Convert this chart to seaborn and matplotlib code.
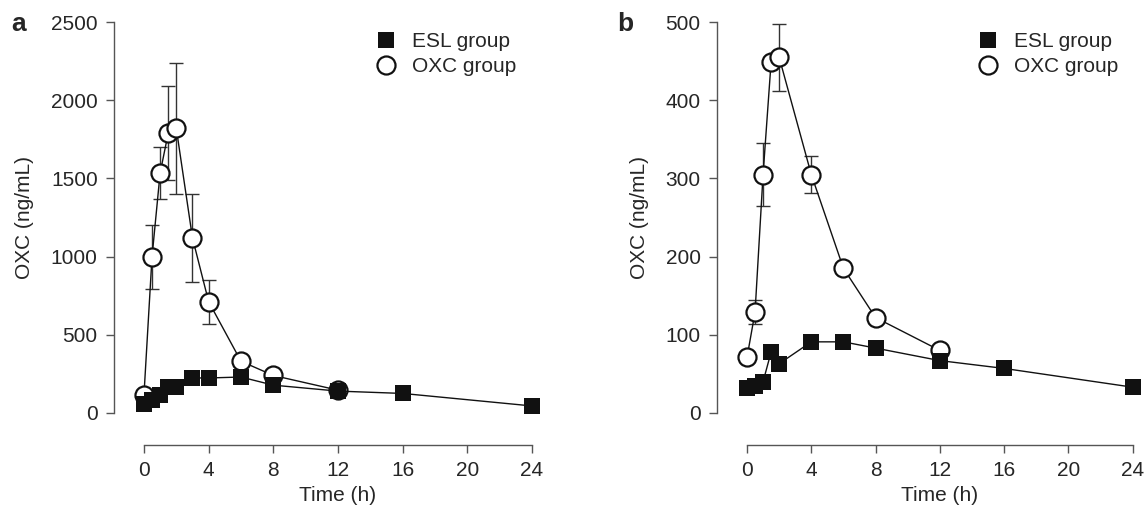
import numpy as np
import pandas as pd
import seaborn as sns
import matplotlib.pyplot as plt
from matplotlib.lines import Line2D

# panel a
time_a = [0, 0.5, 1, 1.5, 2, 3, 4, 6, 8, 12]
oxc_a = [115, 1000, 1535, 1790, 1820, 1120, 712, 331, 240, 146]
oxc_a_err = [0, 205, 165, 300, 420, 280, 140, 0, 0, 0]
esl_time_a = [0, 0.5, 1, 1.5, 2, 3, 4, 6, 8, 12, 16, 24]
esl_a = [57, 85, 115, 167, 167, 224, 224, 230, 178, 140, 125, 45]

# panel b
time_b = [0, 0.5, 1, 1.5, 2, 4, 6, 8, 12]
oxc_b = [71, 129, 305, 449, 455, 305, 185, 122, 80]
oxc_b_err = [0, 15, 40, 0, 43, 24, 0, 0, 0]
esl_time_b = [0, 0.5, 1, 1.5, 2, 4, 6, 8, 12, 16, 24]
esl_b = [32, 35, 40, 78, 63, 91, 91, 83, 67, 57, 33]

x_ticks = [0, 4, 8, 12, 16, 20, 24]

sns.set_style("ticks")
plt.rcParams['font.family'] = ['Liberation Sans', 'DejaVu Sans']
fs = 15

fig = plt.figure(figsize=(11.48, 5.11), dpi=100)
ax_a = fig.add_axes([0.1254, 0.1918, 0.338, 0.765])
ax_b = fig.add_axes([0.6507, 0.1918, 0.336, 0.765])

spine_col = '#555555'
ink = '#111111'


def draw(ax, t_oxc, oxc, err, t_esl, esl, ymax, ystep, letter, letter_x):
    e = np.array(err, dtype=float)
    m = e > 0
    ax.errorbar(np.array(t_oxc)[m], np.array(oxc)[m], yerr=e[m], fmt='none',
                ecolor='#333333', elinewidth=1, capsize=5, capthick=1,
                zorder=1, clip_on=False)
    sns.lineplot(x=t_oxc, y=oxc, ax=ax, color=ink, lw=1, marker='o',
                 markersize=13, markerfacecolor='white',
                 markeredgecolor=ink, markeredgewidth=1.6,
                 zorder=2, clip_on=False)
    sns.lineplot(x=t_esl, y=esl, ax=ax, color=ink, lw=1, marker='s',
                 markersize=11.5, markerfacecolor=ink,
                 markeredgecolor=ink, markeredgewidth=0,
                 zorder=3, clip_on=False)
    ax.set_xlim(0, 24)
    ax.set_ylim(0, ymax)
    ax.set_xticks(x_ticks)
    ax.set_yticks(np.arange(0, ymax + 1, ystep))
    ax.set_xlabel('Time (h)', fontsize=fs, labelpad=4)
    ax.set_ylabel('OXC (ng/mL)', fontsize=fs, labelpad=12)
    sns.despine(ax=ax)
    ax.spines['left'].set_position(('outward', 21.5))
    ax.spines['bottom'].set_position(('outward', 23))
    for s in ['left', 'bottom']:
        ax.spines[s].set_color(spine_col)
        ax.spines[s].set_linewidth(1)
    ax.tick_params(length=5.8, width=1, color=spine_col, labelsize=fs, pad=6)
    handles = [
        Line2D([], [], ls='none', marker='s', markersize=11.5,
               mfc=ink, mec=ink, mew=0, label='ESL group'),
        Line2D([], [], ls='none', marker='o', markersize=13,
               mfc='white', mec=ink, mew=1.6, label='OXC group'),
    ]
    ax.legend(handles=handles, loc='upper left', frameon=False,
              bbox_to_anchor=(0.598, 0.974), borderaxespad=0, borderpad=0,
              handlelength=1.0, handletextpad=0.73,
              labelspacing=0.3, fontsize=fs)
    fig.text(letter_x, 1 - 24 / 511, letter, fontsize=19,
             fontweight='bold', va='center', ha='left')


draw(ax_a, time_a, oxc_a, oxc_a_err, esl_time_a, esl_a, 2500, 500, 'a', 11 / 1148)
draw(ax_b, time_b, oxc_b, oxc_b_err, esl_time_b, esl_b, 500, 100, 'b', 617 / 1148)

fig.savefig('out.png', dpi=100)
